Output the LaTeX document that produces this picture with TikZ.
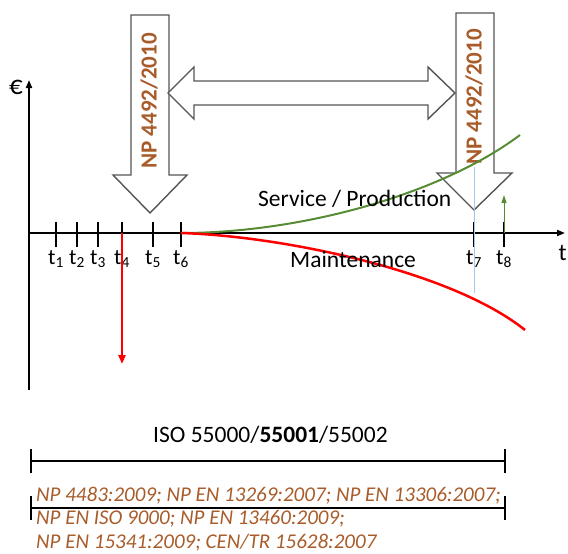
\documentclass[tikz,border=0pt]{standalone}
\usepackage{fontspec}
\setmainfont{Carlito}
\usetikzlibrary{arrows.meta}
\definecolor{brn}{RGB}{168,92,42}
\definecolor{grn}{RGB}{88,140,52}
\definecolor{redc}{RGB}{255,0,0}
\definecolor{outl}{RGB}{85,85,85}
\definecolor{lblue}{RGB}{165,200,235}
\tikzset{
  bigarrow/.style={draw=outl, line width=1.4pt, fill=white, line join=miter},
  axisline/.style={black, line width=1.8pt},
  tickline/.style={black, line width=1.3pt},
  ticklabel/.style={inner sep=0pt, anchor=north, font=\fontsize{22}{26}\selectfont},
  normlabel/.style={inner sep=0pt, font=\fontsize{23.5}{28}\selectfont},
  stdlabel/.style={inner sep=0pt, anchor=base west, text=brn, font=\fontsize{21}{24}\selectfont\itshape},
  nplabel/.style={inner sep=0pt, rotate=90, text=brn, font=\fontsize{23}{27}\selectfont\bfseries},
  rangeline/.style={black, line width=1.3pt},
}
\begin{document}
\begin{tikzpicture}[x=1pt,y=-1pt]
\useasboundingbox (0,0) rectangle (568,554);
% big arrows
\draw[bigarrow] (131,15) -- (169,15) -- (169,175) -- (187,175) -- (150,213) -- (113,175) -- (131,175) -- cycle;
\draw[bigarrow] (456,13) -- (494,13) -- (494,173) -- (512,173) -- (474,210) -- (437,173) -- (456,173) -- cycle;
\draw[bigarrow] (168,93) -- (194,67) -- (194,81) -- (428,81) -- (428,67) -- (455,93) -- (428,119) -- (428,105) -- (194,105) -- (194,119) -- cycle;
\node[nplabel] (np1) at (149,101) {NP 4492/2010};
\node[nplabel] (np2) at (474,97) {NP 4492/2010};
% axes
\coordinate (o) at (29,233);
\coordinate (ytop) at (29,80);
\coordinate (ybot) at (29,390);
\coordinate (xend) at (565,233);
\draw[axisline, -{Triangle[length=8pt,width=6pt]}] (ybot) -- (ytop);
\draw[axisline, -{Triangle[length=8pt,width=6pt]}] (o) -- (xend);
\node[normlabel, font=\fontsize{27}{30}\selectfont] (euro) at (16,87) {€};
\node[normlabel, anchor=base west, font=\fontsize{24}{28}\selectfont] (tlab) at (558.5,260) {t};
% ticks
\foreach \x/\n in {56/1,77/2,98/3,122/4,153/5,181/6,474/7,504/8}{
  \coordinate (k\n) at (\x,233);
  \draw[tickline] (\x,222) -- (\x,247);
  \node[ticklabel] (lt\n) at (\x,250) {t\textsubscript{\n}};
}
% curves
\draw[grn, line width=2pt] (k6) .. controls (300,233) and (440,195) .. (520,135);
\draw[redc, line width=2.5pt] (k6) .. controls (280,236) and (450,270) .. (525,330);
\coordinate (r4) at (122,364);
\draw[redc, line width=2.5pt, -{Triangle[length=9pt,width=7pt]}] (k4) -- (r4);
\coordinate (bt) at (474,167);
\coordinate (bb) at (474,293);
\draw[lblue, line width=1pt] (bt) -- (bb);
\coordinate (g8) at (504,195);
\draw[grn, line width=1pt, -{Triangle[length=8pt,width=5pt]}] (k8) -- (g8);
\node[normlabel, anchor=base west] (serv) at (258,206) {Service / Production};
\node[normlabel, anchor=base west] (maint) at (290,267) {Maintenance};
% ranges
\node[normlabel, anchor=base west] (iso) at (153,442) {ISO 55000/\textbf{55001}/55002};
\coordinate (ia) at (31,461);
\coordinate (ib) at (505,461);
\draw[rangeline] (ia) -- (ib);
\draw[rangeline] (31,449) -- (31,473);
\draw[rangeline] (505,449) -- (505,473);
\coordinate (na) at (31,508);
\coordinate (nb) at (505,508);
\draw[rangeline] (na) -- (nb);
\draw[rangeline] (31,496) -- (31,520);
\draw[rangeline] (505,496) -- (505,520);
\node[stdlabel] (s1) at (36,501) {NP 4483:2009; NP EN 13269:2007; NP EN 13306:2007;};
\node[stdlabel] (s2) at (36,524.5) {NP EN ISO 9000; NP EN 13460:2009;};
\node[stdlabel] (s3) at (36,548) {NP EN 15341:2009; CEN/TR 15628:2007};
\end{tikzpicture}
\end{document}
